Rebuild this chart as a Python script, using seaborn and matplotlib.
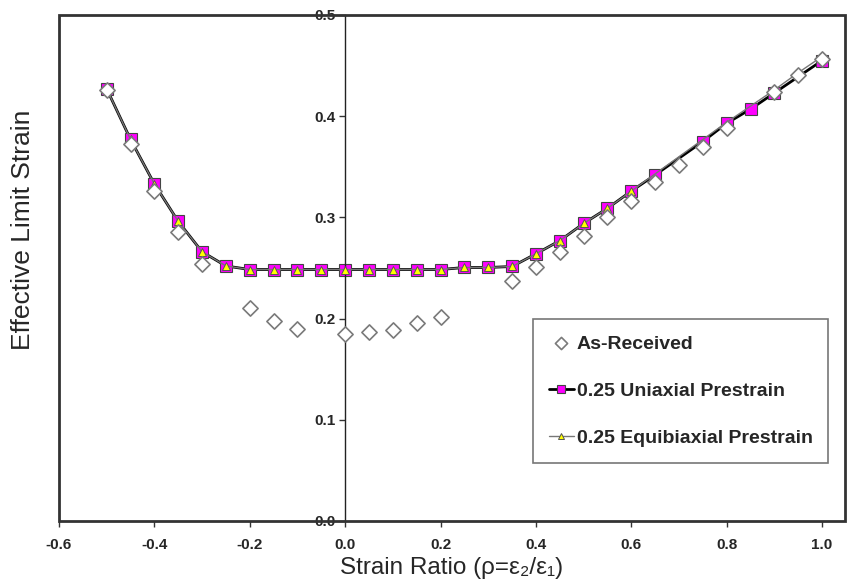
import matplotlib
matplotlib.use("Agg")
import matplotlib.pyplot as plt
import seaborn as sns
import numpy as np
from matplotlib.patches import Rectangle

# ---- data ----
recv_x = [-0.5, -0.45, -0.4, -0.35, -0.3, -0.2, -0.15, -0.1, 0.0, 0.05, 0.1, 0.15, 0.2,
          0.35, 0.4, 0.45, 0.5, 0.55, 0.6, 0.65, 0.7, 0.75, 0.8, 0.9, 0.95, 1.0]
recv_y = [0.426, 0.373, 0.326, 0.286, 0.254, 0.210, 0.198, 0.190, 0.185, 0.187, 0.189, 0.196, 0.202,
          0.237, 0.251, 0.266, 0.282, 0.300, 0.316, 0.335, 0.352, 0.370, 0.388, 0.424, 0.441, 0.457]

uni_x = [-0.5, -0.45, -0.4, -0.35, -0.3, -0.25, -0.2, -0.15, -0.1, -0.05, 0.0, 0.05, 0.1, 0.15, 0.2,
         0.25, 0.3, 0.35, 0.4, 0.45, 0.5, 0.55, 0.6, 0.65, 0.75, 0.8, 0.85, 0.9, 1.0]
uni_y = [0.427, 0.377, 0.333, 0.296, 0.266, 0.252, 0.2485, 0.2485, 0.2485, 0.2485, 0.2485, 0.2485, 0.2485, 0.2485, 0.2485,
         0.2505, 0.2505, 0.2515, 0.264, 0.277, 0.294, 0.309, 0.326, 0.342, 0.375, 0.393, 0.407, 0.423, 0.455]

equi_x = [-0.5, -0.45, -0.4, -0.35, -0.3, -0.25, -0.2, -0.15, -0.1, -0.05, 0.0, 0.05, 0.1, 0.15, 0.2,
          0.25, 0.3, 0.35, 0.4, 0.45, 0.5, 0.55, 0.6, 0.65, 0.7, 0.75, 0.8, 0.85, 0.9, 0.95, 1.0]
equi_y = [0.427, 0.377, 0.333, 0.296, 0.266, 0.252, 0.2485, 0.2485, 0.2485, 0.2485, 0.2485, 0.2485, 0.2485, 0.2485, 0.2485,
          0.2505, 0.2505, 0.2515, 0.264, 0.277, 0.294, 0.309, 0.326, 0.343, 0.360, 0.377, 0.394, 0.410, 0.426, 0.443, 0.459]
equi_marked = 23  # triangles shown for the first points only

labels = ["As-Received", "0.25 Uniaxial Prestrain", "0.25 Equibiaxial Prestrain"]
xticks = [-0.6, -0.4, -0.2, 0.0, 0.2, 0.4, 0.6, 0.8, 1.0]
yticks = [0.0, 0.1, 0.2, 0.3, 0.4, 0.5]

# ---- style ----
sns.set_theme(style="white")
plt.rcParams['font.family'] = ['Liberation Sans', 'DejaVu Sans']

fig = plt.figure(figsize=(8.48, 5.86), dpi=100)
ax = fig.add_axes([59/848, 65/586, 786/848, 506/586])

sns.lineplot(x=equi_x, y=equi_y, ax=ax, color="#777777", linewidth=1.0, sort=False,
             marker="^", markersize=6, markerfacecolor="#FFFF00", markeredgecolor="#555555",
             markeredgewidth=0.7, markevery=list(range(equi_marked)), label=labels[2], zorder=2)
sns.lineplot(x=uni_x, y=uni_y, ax=ax, color="black", linewidth=2.0, sort=False,
             marker="s", markersize=8, markerfacecolor="#FF00FF", markeredgecolor="#444444",
             markeredgewidth=0.8, label=labels[1], zorder=1.5)
ax.lines[0].set_zorder(3)
sns.scatterplot(x=recv_x, y=recv_y, ax=ax, marker="D", s=60, color="white",
                edgecolor="#7a7a7a", linewidth=1.2, label=labels[0], zorder=4)

ax.set_xlim(-0.6, 1.048)
ax.set_ylim(0.0, 0.5)

for s in ["top", "right", "bottom"]:
    ax.spines[s].set_visible(False)
ax.spines["left"].set_position(("data", 0))
ax.spines["left"].set_color("#222222")
ax.spines["left"].set_linewidth(1.0)
ax.add_patch(Rectangle((0, 0), 1, 1, transform=ax.transAxes, fill=False,
                       edgecolor="#333333", linewidth=2.0, zorder=5, clip_on=False))

ax.set_xticks(xticks)
ax.set_xticklabels([f"{v:.1f}" for v in xticks], fontweight="bold", fontsize=11)
ax.set_yticks(yticks)
ax.set_yticklabels([f"{v:.1f}" for v in yticks], fontweight="bold", fontsize=11)
ax.tick_params(axis="both", direction="out", length=4, width=1, color="#333333", pad=3,
               bottom=True, left=True)
ax.tick_params(axis="x", pad=8)

ax.set_xlabel("Strain Ratio (ρ=ε₂/ε₁)", fontsize=17.5, labelpad=4)
ax.set_ylabel("Effective Limit Strain", fontsize=19)
ax.yaxis.set_label_coords(-0.03, 0.575)

h, l = ax.get_legend_handles_labels()
order = [l.index(x) for x in labels]
leg = ax.legend([h[i] for i in order], [l[i] for i in order], loc="lower left",
                bbox_to_anchor=(0.603, 0.115), frameon=True, fancybox=False,
                prop={"weight": "bold", "size": 14}, labelspacing=1.53, markerscale=0.8,
                handlelength=1.3, handletextpad=0.15, borderpad=0.8, borderaxespad=0)
leg.get_frame().set_edgecolor("#555555")
leg.get_frame().set_linewidth(1.2)

fig.savefig("out.png", dpi=100)
